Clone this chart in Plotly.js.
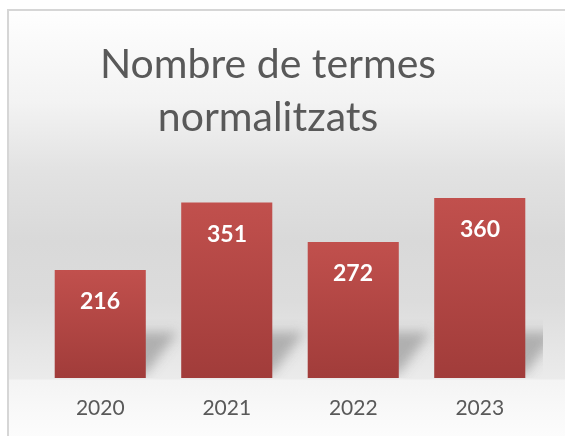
<!DOCTYPE html>
<html>
<head>
<meta charset="utf-8">
<script src="https://cdn.plot.ly/plotly-3.0.1.min.js"></script>
<style>
  html, body { margin: 0; padding: 0; background: #ffffff; overflow: hidden; }
  #wrap { position: relative; width: 565px; height: 436px; }
  #bg {
    position: fixed; left: 7px; top: 9px; width: 620px; height: 470px;
    border-left: 2px solid #d6d6d6; border-top: 2px solid #d6d6d6;
    background: linear-gradient(to bottom,
      #fefefe 0px, #f3f3f3 90px, #e2e2e2 160px, #d9d9d9 230px,
      #dcdcdc 290px, #e6e6e6 340px, #ebebeb 368px,
      #f4f4f4 369px, #f8f8f8 395px, #fcfcfc 427px, #fcfcfc 470px);
  }
  #chart { position: absolute; left: 0; top: 0; width: 565px; height: 436px; }
</style>
</head>
<body>
<div id="wrap">
  <div id="bg"></div>
  <div id="chart"></div>
</div>
<script>
const years = ['2020', '2021', '2022', '2023'];
const values = [216, 351, 272, 360];
const labels = ['216', '351', '272', '360'];

const textColor = '#595959';
const fontFam = 'Lato, "Open Sans", "Noto Sans", sans-serif';

const trace = {
  type: 'bar',
  x: years,
  y: values,
  marker: { color: '#b24643', line: { width: 0 } },
  hoverinfo: 'x+y'
};

// category axes position annotations by category index
const annotations = years.map((yr, i) => ({
  x: i,
  y: values[i],
  xref: 'x',
  yref: 'y',
  text: '<b>' + labels[i] + '</b>',
  showarrow: false,
  yanchor: 'middle',
  yshift: -30,
  font: { family: fontFam, size: 23, color: '#ffffff' }
}));

const layout = {
  width: 565,
  height: 436,
  margin: { l: 37, r: 22, t: 178, b: 58 },
  paper_bgcolor: 'rgba(0,0,0,0)',
  plot_bgcolor: 'rgba(0,0,0,0)',
  showlegend: false,
  bargap: 0.28,
  title: {
    text: 'Nombre de termes<br>normalitzats',
    x: 268 / 565,
    xref: 'container',
    xanchor: 'center',
    y: 1 - 78 / 436,
    yref: 'container',
    yanchor: 'middle',
    font: { family: fontFam, size: 41, color: textColor }
  },
  xaxis: {
    type: 'category',
    range: [-0.5, 3.5],
    showgrid: false,
    zeroline: false,
    showline: false,
    ticks: '',
    ticklabelstandoff: 15,
    tickfont: { family: fontFam, size: 21, color: textColor }
  },
  yaxis: {
    range: [0, 400],
    visible: false,
    showgrid: false,
    zeroline: false
  },
  annotations: annotations
};

Plotly.newPlot('chart', [trace], layout, { displayModeBar: false, staticPlot: true }).then(function (gd) {
  const svgNS = 'http://www.w3.org/2000/svg';
  const svg = gd.querySelector('svg.main-svg');
  let defs = svg.querySelector('defs');
  if (!defs) { defs = document.createElementNS(svgNS, 'defs'); svg.insertBefore(defs, svg.firstChild); }

  const grad = document.createElementNS(svgNS, 'linearGradient');
  grad.setAttribute('id', 'barGrad');
  grad.setAttribute('x1', '0'); grad.setAttribute('y1', '0');
  grad.setAttribute('x2', '0'); grad.setAttribute('y2', '1');
  [['0%', '#c1504d'], ['100%', '#a13c3a']].forEach(function (s) {
    const st = document.createElementNS(svgNS, 'stop');
    st.setAttribute('offset', s[0]); st.setAttribute('stop-color', s[1]);
    grad.appendChild(st);
  });
  defs.appendChild(grad);

  const filt = document.createElementNS(svgNS, 'filter');
  filt.setAttribute('id', 'shBlur');
  filt.setAttribute('x', '-50%'); filt.setAttribute('y', '-50%');
  filt.setAttribute('width', '200%'); filt.setAttribute('height', '200%');
  const blur = document.createElementNS(svgNS, 'feGaussianBlur');
  blur.setAttribute('stdDeviation', '6');
  filt.appendChild(blur);
  defs.appendChild(filt);

  const paths = gd.querySelectorAll('.bars .point path');
  const barLayer = gd.querySelector('.barlayer');
  const shG = document.createElementNS(svgNS, 'g');
  shG.setAttribute('filter', 'url(#shBlur)');
  paths.forEach(function (p) {
    const b = p.getBBox();
    const base = b.y + b.height;
    const x0 = b.x + b.width * 0.15, x1 = b.x + b.width;
    const dx = 32, dy = 46;
    const poly = document.createElementNS(svgNS, 'polygon');
    poly.setAttribute('points',
      x0 + ',' + (base - 4) + ' ' + x1 + ',' + (base - 4) + ' ' +
      (x1 + dx) + ',' + (base - dy) + ' ' + (x0 + dx) + ',' + (base - dy));
    poly.setAttribute('fill', '#6e6e6e');
    poly.setAttribute('fill-opacity', '0.45');
    shG.appendChild(poly);
    p.style.fill = 'url(#barGrad)';
  });
  if (barLayer) barLayer.parentNode.insertBefore(shG, barLayer);
});
</script>
</body>
</html>
